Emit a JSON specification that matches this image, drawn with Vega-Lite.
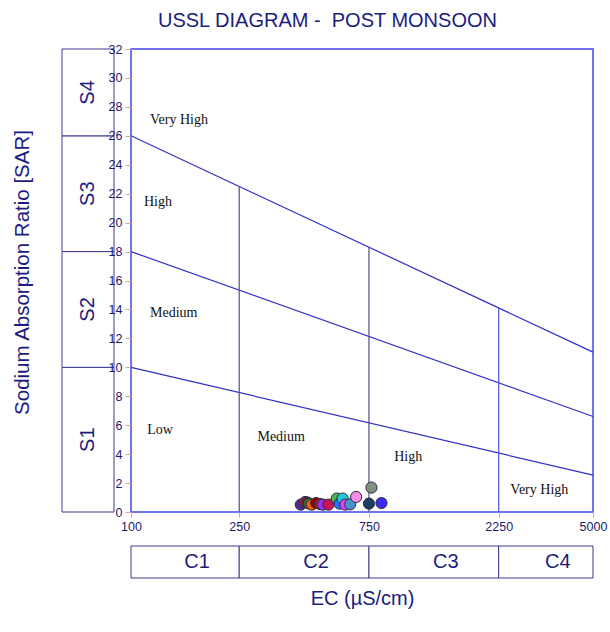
{
  "$schema": "https://vega.github.io/schema/vega-lite/v6.json",
  "padding": {"left": 12, "top": 11, "right": 5, "bottom": 5},
  "title": {"text": "USSL DIAGRAM -\u00a0 POST MONSOON", "font": "Liberation Sans", "fontSize": 20, "fontWeight": "normal", "color": "#1c1c80", "anchor": "start", "offset": 11, "dx": 146},
  "config": {"font": "Liberation Sans", "view": {"stroke": null}},
  "datasets": {
    "sclass": [
      {"label": "S1", "lo": 0, "hi": 10, "mid": 5},
      {"label": "S2", "lo": 10, "hi": 18, "mid": 14},
      {"label": "S3", "lo": 18, "hi": 26, "mid": 22},
      {"label": "S4", "lo": 26, "hi": 32, "mid": 29}
    ],
    "cclass": [
      {"label": "C1", "lo": 100, "hi": 250, "mid": 158.1},
      {"label": "C2", "lo": 250, "hi": 750, "mid": 433},
      {"label": "C3", "lo": 750, "hi": 2250, "mid": 1299},
      {"label": "C4", "lo": 2250, "hi": 5000, "mid": 3354}
    ],
    "lines": [
      {"boundary": "S3/S4", "ec": 100, "sar": 26},
      {"boundary": "S3/S4", "ec": 5000, "sar": 11.05},
      {"boundary": "S2/S3", "ec": 100, "sar": 18},
      {"boundary": "S2/S3", "ec": 5000, "sar": 6.6},
      {"boundary": "S1/S2", "ec": 100, "sar": 10},
      {"boundary": "S1/S2", "ec": 5000, "sar": 2.55},
      {"boundary": "C1/C2", "ec": 250, "sar": 0},
      {"boundary": "C1/C2", "ec": 250, "sar": 22.5},
      {"boundary": "C2/C3", "ec": 750, "sar": 0},
      {"boundary": "C2/C3", "ec": 750, "sar": 18.3},
      {"boundary": "C3/C4", "ec": 2250, "sar": 0},
      {"boundary": "C3/C4", "ec": 2250, "sar": 14.1}
    ],
    "regions": [
      {"label": "Very High", "ec": 117.5, "sar": 27.06},
      {"label": "High", "ec": 111.6, "sar": 21.45},
      {"label": "Medium", "ec": 117.5, "sar": 13.73},
      {"label": "Low", "ec": 114.8, "sar": 5.7},
      {"label": "Medium", "ec": 291.7, "sar": 5.15},
      {"label": "High", "ec": 929, "sar": 3.81},
      {"label": "Very High", "ec": 2483, "sar": 1.5}
    ],
    "samples": [
      {"id": "W01", "ec": 421, "sar": 0.51},
      {"id": "W02", "ec": 437, "sar": 0.69},
      {"id": "W03", "ec": 444, "sar": 0.66},
      {"id": "W04", "ec": 452, "sar": 0.58},
      {"id": "W05", "ec": 462, "sar": 0.51},
      {"id": "W06", "ec": 480, "sar": 0.62},
      {"id": "W07", "ec": 496, "sar": 0.55},
      {"id": "W08", "ec": 508, "sar": 0.51},
      {"id": "W09", "ec": 532, "sar": 0.51},
      {"id": "W10", "ec": 571, "sar": 0.93},
      {"id": "W11", "ec": 585, "sar": 0.58},
      {"id": "W12", "ec": 600, "sar": 0.93},
      {"id": "W13", "ec": 614, "sar": 0.51},
      {"id": "W14", "ec": 640, "sar": 0.53},
      {"id": "W15", "ec": 673, "sar": 1.04},
      {"id": "W16", "ec": 750, "sar": 0.58},
      {"id": "W17", "ec": 766, "sar": 1.69},
      {"id": "W18", "ec": 834, "sar": 0.62}
    ]
  },
  "resolve": {"scale": {"y": "independent"}},
  "hconcat": [
    {
      "width": 52,
      "height": 463,
      "data": {"name": "sclass"},
      "layer": [
        {
          "mark": {"type": "rect", "fill": "white", "stroke": "#3a3a90", "strokeWidth": 1},
          "encoding": {
            "y": {"field": "lo", "type": "quantitative", "scale": {"domain": [0, 32], "nice": false},
              "axis": {"title": "Sodium Absorption Ratio [SAR]", "labels": false, "ticks": false, "domain": false, "grid": false, "titleFontSize": 20.5, "titleFontWeight": "normal", "titleColor": "#1c1c80", "titleFont": "Liberation Sans", "titlePadding": 30, "titleY": 223}},
            "y2": {"field": "hi"}
          }
        },
        {
          "mark": {"type": "text", "angle": 270, "fontSize": 20, "color": "#1c1c80", "align": "center", "baseline": "middle"},
          "encoding": {
            "y": {"field": "mid", "type": "quantitative"},
            "text": {"field": "label"}
          }
        }
      ]
    },
    {
      "resolve": {"scale": {"x": "independent"}},
      "vconcat": [
        {
          "width": 462,
          "height": 463,
          "view": {"stroke": "#4646ee", "strokeWidth": 1.5},
          "encoding": {
            "x": {"field": "ec", "type": "quantitative", "scale": {"type": "log", "domain": [100, 5000], "nice": false},
              "axis": {"values": [100, 250, 750, 2250, 5000], "format": "d", "title": null, "grid": false, "domain": false, "tickColor": "#d4a5a5", "tickSize": 5, "labelFontSize": 12.5, "labelColor": "#1a1a6e", "labelPadding": 3, "labelFlush": false, "labelOverlap": false}},
            "y": {"field": "sar", "type": "quantitative", "scale": {"domain": [0, 32], "nice": false},
              "axis": {"values": [0, 2, 4, 6, 8, 10, 12, 14, 16, 18, 20, 22, 24, 26, 28, 30, 32], "format": "d", "title": null, "grid": false, "domain": false, "tickColor": "#d4a5a5", "tickSize": 6, "labelFontSize": 12.5, "labelColor": "#1a1a6e", "labelPadding": 3, "labelOverlap": false, "labelSeparation": 0}}
          },
          "layer": [
            {
              "data": {"name": "lines"},
              "mark": {"type": "line", "strokeWidth": 1.2},
              "encoding": {
                "color": {"field": "boundary", "type": "nominal", "legend": null,
                  "scale": {"domain": ["S3/S4", "S2/S3", "S1/S2", "C1/C2", "C2/C3", "C3/C4"], "range": ["#3030c8", "#3030c8", "#3030c8", "#4e4e8c", "#4e4e8c", "#5050dc"]}}
              }
            },
            {
              "data": {"name": "samples"},
              "mark": {"type": "circle", "size": 125, "opacity": 1, "stroke": "#2b2b40", "strokeWidth": 1},
              "encoding": {
                "fill": {"field": "id", "type": "nominal", "legend": null,
                  "scale": {"domain": ["W01","W02","W03","W04","W05","W06","W07","W08","W09","W10","W11","W12","W13","W14","W15","W16","W17","W18"],
                    "range": ["#4b2b8f","#c0392b","#7b1d3a","#2e7d32","#ff5a00","#8b0000","#b22222","#9b30ff","#c2185b","#4caf50","#1e70ff","#26c6da","#e040fb","#4a90c8","#f48fe8","#1f3d5c","#7f9080","#3b2cf5"]}}
              }
            },
            {
              "data": {"name": "regions"},
              "mark": {"type": "text", "font": "Liberation Serif", "fontSize": 14, "align": "left", "baseline": "middle", "color": "#111111"},
              "encoding": {
                "text": {"field": "label"}
              }
            }
          ]
        },
        {
          "width": 462,
          "height": 32,
          "data": {"name": "cclass"},
          "layer": [
            {
              "mark": {"type": "rect", "fill": "white", "stroke": "#3a3a90", "strokeWidth": 1},
              "encoding": {
                "x": {"field": "lo", "type": "quantitative", "scale": {"type": "log", "domain": [100, 5000], "nice": false},
                  "axis": {"title": "EC (µS/cm)", "labels": false, "ticks": false, "domain": false, "grid": false, "titleFontSize": 20, "titleFontWeight": "normal", "titleColor": "#1c1c80", "titleFont": "Liberation Sans", "titlePadding": 10}},
                "x2": {"field": "hi"}
              }
            },
            {
              "mark": {"type": "text", "fontSize": 20, "color": "#1c1c80", "align": "center", "baseline": "middle", "dx": 12},
              "encoding": {
                "x": {"field": "mid", "type": "quantitative"},
                "text": {"field": "label"}
              }
            }
          ]
        }
      ],
      "spacing": 34,
      "bounds": "flush"
    }
  ],
  "spacing": 17,
  "bounds": "flush"
}
